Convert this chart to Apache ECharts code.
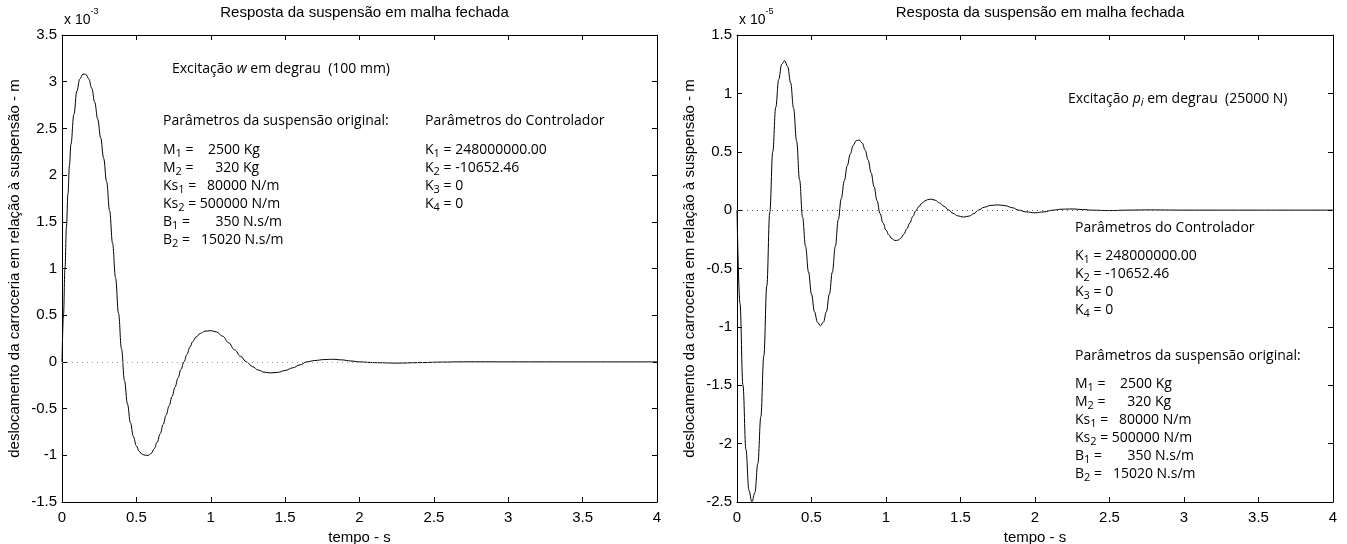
<!DOCTYPE html>
<html><head><meta charset="utf-8">
<script src="https://cdn.jsdelivr.net/npm/echarts@6/dist/echarts.min.js"></script>
<style>html,body{margin:0;padding:0;background:#fff}#c{width:1347px;height:544px}</style>
</head><body><div id="c"></div>
<script>
// Left: excitation w (step 100 mm), values x 1e-3 m
const tLeft = [0,0.01,0.02,0.03,0.04,0.05,0.06,0.08,0.10,0.12,0.14,0.16,0.18,0.20,0.22,0.24,0.26,0.28,0.30,0.32,0.34,0.36,0.38,0.40,0.42,0.44,0.46,0.48,0.50,0.52,0.54,0.56,0.58,0.60,0.62,0.64,0.66,0.68,0.70,0.72,0.74,0.76,0.78,0.80,0.82,0.84,0.86,0.88,0.90,0.93,0.96,1.00,1.04,1.08,1.12,1.16,1.20,1.24,1.28,1.32,1.36,1.40,1.45,1.50,1.55,1.60,1.645,1.70,1.76,1.82,1.88,1.94,2.00,2.10,2.25,2.40,2.55,2.70,3.00,3.50,4.00];
const yLeft = [0,0.5,1.0,1.45,1.8,2.1,2.33,2.65,2.9,3.03,3.08,3.08,3.03,2.93,2.78,2.6,2.4,2.18,1.93,1.62,1.27,0.9,0.52,0.14,-0.2,-0.45,-0.65,-0.8,-0.9,-0.96,-0.99,-1.0,-1.0,-0.98,-0.93,-0.86,-0.77,-0.67,-0.57,-0.47,-0.37,-0.27,-0.17,-0.08,0.0,0.08,0.16,0.22,0.265,0.305,0.328,0.335,0.32,0.275,0.205,0.13,0.06,0.0,-0.05,-0.088,-0.11,-0.118,-0.112,-0.092,-0.064,-0.032,0,0.015,0.025,0.028,0.022,0.01,0,-0.008,-0.013,-0.008,-0.002,0.001,0.0005,0,0];
// Right: excitation p_i (step 25000 N), values x 1e-5 m
const tRight = [0,0.02,0.04,0.06,0.08,0.10,0.12,0.14,0.16,0.18,0.20,0.22,0.24,0.26,0.28,0.30,0.32,0.34,0.36,0.38,0.40,0.42,0.44,0.46,0.48,0.50,0.52,0.54,0.56,0.58,0.60,0.62,0.64,0.66,0.68,0.70,0.72,0.74,0.76,0.78,0.80,0.82,0.84,0.86,0.88,0.90,0.92,0.94,0.96,0.98,1.00,1.02,1.04,1.06,1.08,1.10,1.12,1.14,1.16,1.18,1.20,1.22,1.24,1.26,1.28,1.30,1.33,1.36,1.39,1.42,1.45,1.48,1.52,1.56,1.59,1.62,1.66,1.70,1.75,1.80,1.85,1.89,1.94,2.00,2.06,2.12,2.18,2.25,2.32,2.38,2.50,2.62,2.75,3.00,3.50,4.00];
const yRight = [0,-0.8,-1.5,-2.05,-2.4,-2.5,-2.42,-2.17,-1.77,-1.25,-0.65,-0.02,0.5,0.88,1.12,1.25,1.28,1.23,1.09,0.87,0.59,0.26,-0.06,-0.31,-0.53,-0.72,-0.87,-0.96,-0.99,-0.96,-0.87,-0.72,-0.53,-0.31,-0.08,0.1,0.25,0.38,0.48,0.555,0.595,0.6,0.575,0.515,0.43,0.32,0.2,0.08,-0.03,-0.11,-0.17,-0.215,-0.245,-0.26,-0.258,-0.24,-0.205,-0.16,-0.11,-0.055,-0.005,0.03,0.058,0.078,0.09,0.094,0.085,0.062,0.032,0.002,-0.028,-0.048,-0.06,-0.05,-0.03,0,0.025,0.04,0.045,0.038,0.02,0,-0.015,-0.023,-0.015,0,0.008,0.01,0.005,0,-0.004,0,0.002,0,0,0];
const xTicks = [0,0.5,1,1.5,2,2.5,3,3.5,4];
const titleText = 'Resposta da suspensão em malha fechada';
const xName = 'tempo - s';
const yName = 'deslocamento da carroceria em relação à suspensão - m';

const ax = 'Liberation Sans, Arial, sans-serif';
const tf = 'Open Sans, sans-serif';
const rich = {
  n: {fontFamily: tf, fontSize: 14, lineHeight: 18, verticalAlign: 'middle', color: '#000'},
  i: {fontFamily: tf, fontSize: 14, lineHeight: 18, fontStyle: 'italic', verticalAlign: 'middle', color: '#000'},
  s: {fontFamily: tf, fontSize: 11, lineHeight: 10, verticalAlign: 'bottom', color: '#000'},
  si: {fontFamily: tf, fontSize: 11, lineHeight: 10, fontStyle: 'italic', verticalAlign: 'bottom', color: '#000'}
};
const supRich = {
  a: {fontFamily: ax, fontSize: 14, lineHeight: 20, verticalAlign: 'bottom', color: '#000'},
  p: {fontFamily: ax, fontSize: 9, lineHeight: 10, verticalAlign: 'top', color: '#000'}
};
const suspHead = ['{n|Parâmetros da suspensão original:}'];
const suspLines = [
  '{n|M}{s|1}{n| =    2500 Kg}',
  '{n|M}{s|2}{n| =      320 Kg}',
  '{n|Ks}{s|1}{n| =   80000 N/m}',
  '{n|Ks}{s|2}{n| = 500000 N/m}',
  '{n|B}{s|1}{n| =       350 N.s/m}',
  '{n|B}{s|2}{n| =   15020 N.s/m}'
];
const ctrlHead = ['{n|Parâmetros do Controlador}'];
const ctrlLines = [
  '{n|K}{s|1}{n| = 248000000.00}',
  '{n|K}{s|2}{n| = -10652.46}',
  '{n|K}{s|3}{n| = 0}',
  '{n|K}{s|4}{n| = 0}'
];
function txt(x, y, lines) {
  return {type: 'text', left: x, top: y, style: {text: lines.join('\n'), rich: rich}};
}

const grids = [
  {left: 62, top: 35, width: 595, height: 467, outerBoundsMode: 'none', containLabel: false},
  {left: 737, top: 35, width: 596, height: 467, outerBoundsMode: 'none', containLabel: false}
];
function xAx(gi, pos) {
  const main = pos === 'bottom';
  return {
    type: 'value', gridIndex: gi, position: pos, min: 0, max: 4, interval: 0.5,
    name: main ? xName : '', nameLocation: 'middle', nameGap: 26,
    nameTextStyle: {fontFamily: ax, fontSize: 15, color: '#000'},
    axisLine: {show: true, onZero: false, lineStyle: {color: '#000', width: 1}},
    axisTick: {show: true, inside: true, length: 5, lineStyle: {color: '#000'}},
    axisLabel: {show: main, margin: 8, fontFamily: ax, fontSize: 15, color: '#000'},
    splitLine: {show: false}
  };
}
function yAx(gi, pos, mn, mx) {
  const main = pos === 'left';
  return {
    type: 'value', gridIndex: gi, position: pos, min: mn, max: mx, interval: 0.5,
    name: main ? yName : '', nameLocation: 'middle', nameGap: 40, nameRotate: 90,
    nameTextStyle: {fontFamily: ax, fontSize: 15, color: '#000'},
    axisLine: {show: true, onZero: false, lineStyle: {color: '#000', width: 1}},
    axisTick: {show: true, inside: true, length: 5, lineStyle: {color: '#000'}},
    axisLabel: {show: main, margin: 5, fontFamily: ax, fontSize: 15, color: '#000'},
    splitLine: {show: false}
  };
}
function zeroMark(color) {
  return {silent: true, symbol: 'none', label: {show: false},
    lineStyle: {type: [1, 4], color: color, width: 1}, data: [{yAxis: 0}]};
}

const option = {
  animation: false,
  backgroundColor: '#fff',
  title: [
    {text: titleText, left: 359.5, textAlign: 'center', top: 0, textStyle: {fontFamily: ax, fontSize: 15, fontWeight: 'normal', color: '#000'}},
    {text: titleText, left: 1035, textAlign: 'center', top: 0, textStyle: {fontFamily: ax, fontSize: 15, fontWeight: 'normal', color: '#000'}}
  ],
  grid: grids,
  xAxis: [xAx(0, 'bottom'), xAx(0, 'top'), xAx(1, 'bottom'), xAx(1, 'top')],
  yAxis: [yAx(0, 'left', -1.5, 3.5), yAx(0, 'right', -1.5, 3.5), yAx(1, 'left', -2.5, 1.5), yAx(1, 'right', -2.5, 1.5)],
  series: [
    {type: 'line', xAxisIndex: 0, yAxisIndex: 0, showSymbol: false, smooth: 0.4, smoothMonotone: 'x',
      data: tLeft.map((t, k) => [t, yLeft[k]]), lineStyle: {color: '#000', width: 1}, markLine: zeroMark('#999')},
    {type: 'line', xAxisIndex: 2, yAxisIndex: 2, showSymbol: false, smooth: 0.4, smoothMonotone: 'x',
      data: tRight.map((t, k) => [t, yRight[k]]), lineStyle: {color: '#000', width: 1}, markLine: zeroMark('#555')}
  ],
  graphic: [
    {type: 'text', left: 64, top: 7, style: {text: '{a|x 10}{p|-3}', rich: supRich}},
    {type: 'text', left: 739, top: 7, style: {text: '{a|x 10}{p|-5}', rich: supRich}},
    {type: 'text', left: 172, top: 62, style: {text: '{n|Excitação }{i|w}{n| em degrau  (100 mm)}', rich: rich}},
    txt(163, 114, suspHead),
    txt(163, 143, suspLines),
    txt(425, 114, ctrlHead),
    txt(425, 143, ctrlLines),
    {type: 'text', left: 1068, top: 92, style: {text: '{n|Excitação }{i|p}{si|i}{n| em degrau  (25000 N)}', rich: rich}},
    txt(1075, 221, ctrlHead),
    txt(1075, 249, ctrlLines),
    txt(1075, 349, suspHead),
    txt(1075, 377, suspLines)
  ]
};
const chart = echarts.init(document.getElementById('c'), null, {renderer: 'canvas'});
chart.setOption(option);
</script></body></html>
